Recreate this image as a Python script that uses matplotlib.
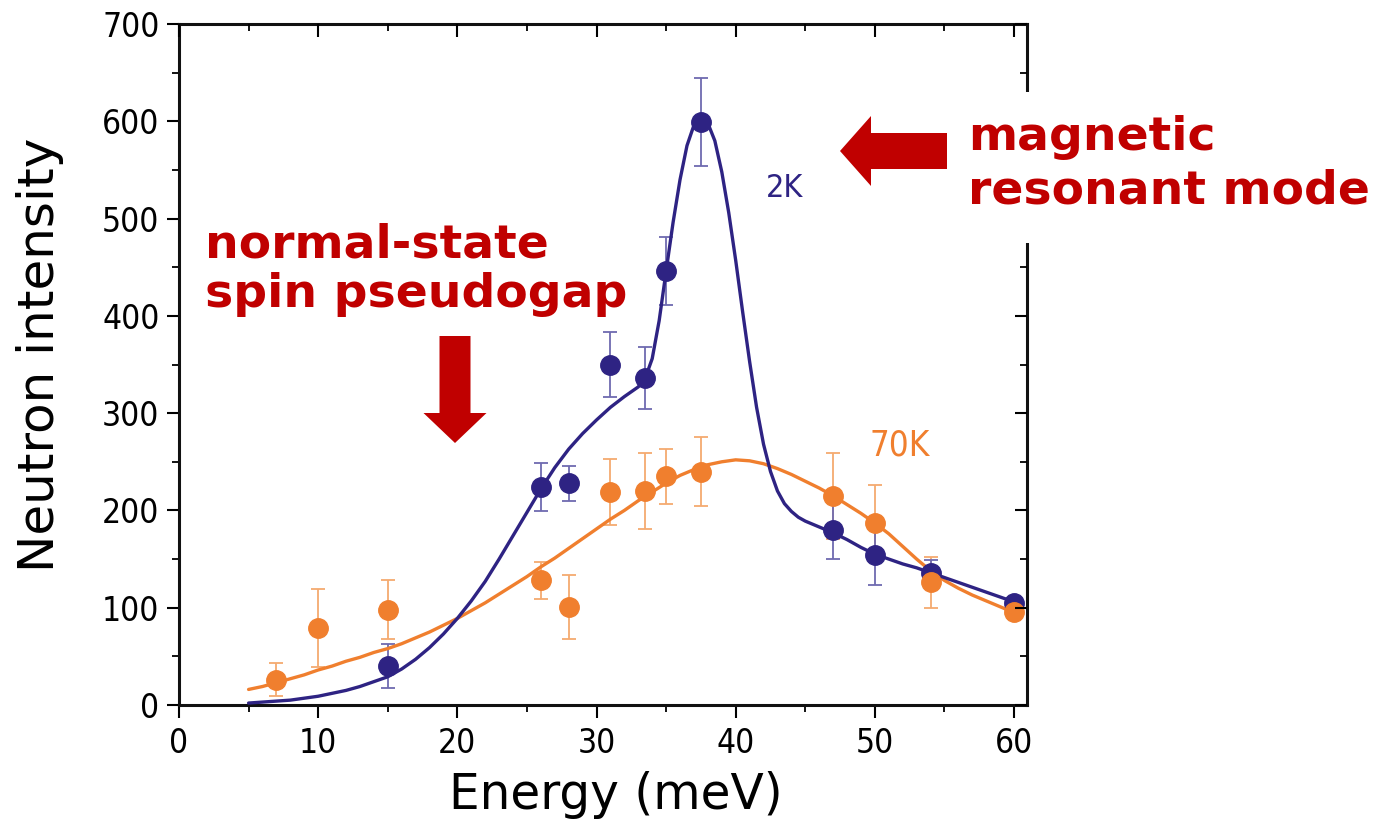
import matplotlib
matplotlib.use("Agg")
import matplotlib.pyplot as plt
from matplotlib.patches import FancyArrow, Rectangle
from matplotlib import font_manager as fm
import numpy as np

# ---------------- data ----------------
e_2k = [15, 26, 28, 31, 33.5, 35, 37.5, 47, 50, 54, 60]
i_2k = [40, 224, 228, 350, 336, 446, 599, 180, 154, 136, 105]
err_2k = [23, 25, 18, 33, 32, 35, 45, 30, 31, 13, 5]

e_70k = [7, 10, 15, 26, 28, 31, 33.5, 35, 37.5, 47, 50, 54, 60]
i_70k = [26, 79, 98, 128, 101, 219, 220, 235, 240, 215, 187, 126, 96]
err_70k = [17, 40, 30, 19, 33, 34, 39, 28, 35, 44, 39, 26, 8]

# fit curves
fit_2k_e = [5, 6, 7, 8, 9, 10, 11, 12, 13, 14, 15, 16, 17, 18, 19, 20, 21, 22, 23, 24,
            25, 26, 27, 28, 29, 30, 31, 32, 33, 33.5, 34, 34.5, 35, 35.5, 36, 36.5,
            37, 37.5, 38, 38.5, 39, 39.5, 40, 40.5, 41, 41.5, 42, 42.5, 43, 43.5,
            44, 44.5, 45, 46, 47, 48, 49, 50, 51, 52, 53, 54, 55, 56, 57, 58, 59, 60]
fit_2k_i = [2, 3, 4, 5, 7, 9, 12, 15, 19, 24, 29, 37, 47, 59, 73, 89, 107, 127, 150, 174,
            198, 222, 244, 263, 279, 293, 306, 317, 327, 336, 356, 395, 446, 496, 540, 575,
            596, 603, 598, 580, 548, 506, 457, 404, 353, 306, 268, 240, 220, 207,
            199, 193, 189, 183, 177, 170, 162, 155, 150, 145, 141, 136, 131, 126, 121, 116, 111, 106]

fit_70k_e = [5, 6, 7, 8, 9, 10, 11, 12, 13, 14, 15, 16, 17, 18, 19, 20, 21, 22, 23, 24,
             25, 26, 27, 28, 29, 30, 31, 32, 33, 34, 35, 36, 37, 38, 39, 40, 41, 42,
             43, 44, 45, 46, 47, 48, 49, 50, 51, 52, 53, 54, 55, 56, 57, 58, 59, 60]
fit_70k_i = [16, 19, 23, 27, 31, 36, 40, 45, 49, 54, 58, 63, 69, 75, 82, 89, 97, 105, 114, 123,
             132, 142, 151, 161, 171, 181, 191, 200, 210, 219, 228, 236, 242, 247, 250, 252, 251, 248,
             243, 237, 230, 223, 215, 206, 197, 187, 176, 163, 150, 138, 128, 120, 113, 107, 101, 95]

xticks = [0, 10, 20, 30, 40, 50, 60]
yticks = [0, 100, 200, 300, 400, 500, 600, 700]

navy = "#2E2383"
navy_err = "#6E6AB0"
orange = "#F07F2E"
orange_err = "#F5AA70"
red = "#C00000"

# narrow font for tick labels, if one exists
fonts = fm.fontManager.ttflist
names = {f.name for f in fonts}
tick_kw = dict(family="Liberation Sans", fontsize=24)
tag_kw = dict(family="Liberation Sans")
if "Liberation Sans Narrow" in names:
    tick_kw = dict(family="Liberation Sans Narrow", fontsize=28)
    tag_kw = dict(family="Liberation Sans Narrow")
elif any(f.name == "DejaVu Sans" and str(f.stretch) in ("condensed", "semi-condensed") for f in fonts):
    tick_kw = dict(family="DejaVu Sans", stretch="condensed", fontsize=24)
    tag_kw = dict(family="DejaVu Sans", stretch="condensed")

W, H = 1384, 819
fig = plt.figure(figsize=(W / 100, H / 100), dpi=100)
ax = fig.add_axes([179 / W, 1 - 705 / H, (1027 - 179) / W, (705 - 24) / H])

ax.plot(fit_70k_e, fit_70k_i, color=orange, lw=2.4, zorder=2, solid_capstyle="round",
        solid_joinstyle="round")
ax.plot(fit_2k_e, fit_2k_i, color=navy, lw=2.4, zorder=3, solid_capstyle="round",
        solid_joinstyle="round")

ax.errorbar(e_70k, i_70k, yerr=err_70k, fmt="none", ecolor=orange_err, elinewidth=1.3,
            capsize=5, capthick=1.3, zorder=1)
ax.errorbar(e_2k, i_2k, yerr=err_2k, fmt="none", ecolor=navy_err, elinewidth=1.3,
            capsize=5, capthick=1.3, zorder=1)
ax.plot(e_2k, i_2k, "o", color=navy, ms=14, zorder=4)
ax.plot(e_70k, i_70k, "o", color=orange, ms=14, zorder=5)

ax.set_xlim(0, 60.93)
ax.set_ylim(0, 700)
ax.set_xticks(xticks)
ax.set_yticks(yticks)
ax.set_xticks(np.arange(5, 60, 10), minor=True)
ax.set_yticks(np.arange(50, 700, 100), minor=True)
ax.set_xticklabels([str(t) for t in xticks], **tick_kw)
ax.set_yticklabels([str(t) for t in yticks], **tick_kw)
ax.tick_params(which="major", length=9, width=1.5, direction="out", pad=5)
ax.tick_params(which="minor", length=5, width=1.3, direction="out")
ax.tick_params(axis="x", which="major", pad=7)
for spine in ax.spines.values():
    spine.set_linewidth(2.2)
    spine.set_color("#111111")

# inward ticks on top and right
ax2 = ax.twinx()
ax2.set_ylim(ax.get_ylim())
ax2.set_yticks(yticks)
ax2.set_yticks(np.arange(50, 700, 100), minor=True)
ax2.tick_params(which="major", direction="in", length=9, width=1.5, labelright=False)
ax2.tick_params(which="minor", direction="in", length=5, width=1.3, labelright=False)
ax3 = ax.twiny()
ax3.set_xlim(ax.get_xlim())
ax3.set_xticks(xticks)
ax3.set_xticks(np.arange(5, 60, 10), minor=True)
ax3.tick_params(which="major", direction="in", length=9, width=1.5, labeltop=False)
ax3.tick_params(which="minor", direction="in", length=5, width=1.3, labeltop=False)
for a in (ax2, ax3):
    for s in a.spines.values():
        s.set_visible(False)

ax.text(43.5, 531, "2K", color=navy, fontsize=23, ha="center", va="center", zorder=6, **tag_kw)
ax.text(51.8, 267, "70K", color=orange, fontsize=25, ha="center", va="center", zorder=6, **tag_kw)

# axis labels
fig.text(616 / W, 1 - 795 / H, "Energy (meV)", fontsize=35, ha="center", va="center",
         family="DejaVu Sans")
fig.text(40 / W, 1 - 355 / H, "Neutron intensity", fontsize=36, ha="center", va="center",
         rotation=90, family="DejaVu Sans")

# white box behind right annotation (hides part of right spine)
fig.patches.append(Rectangle((1010 / W, 1 - 243 / H), (W - 1010) / W, (243 - 92) / H,
                             transform=fig.transFigure, facecolor="white",
                             edgecolor="none", zorder=10))

ann = dict(color=red, fontsize=34, fontweight="bold", family="DejaVu Sans",
           ha="left", va="baseline", zorder=11)
fig.text(205 / W, 1 - 258 / H, "normal-state", **ann)
fig.text(205 / W, 1 - 307 / H, "spin pseudogap", **ann)
fig.text(968 / W, 1 - 150 / H, "magnetic", **ann)
fig.text(968 / W, 1 - 204 / H, "resonant mode", **ann)

# arrows in display (pixel) coordinates
def px_arrow(x0, y0, dx, dy, width, head_w, head_l):
    fig.patches.append(FancyArrow(x0, H - y0, dx, -dy, width=width, head_width=head_w,
                                  head_length=head_l, length_includes_head=True,
                                  transform=None, color=red, zorder=12, lw=0))

px_arrow(455, 336, 0, 443 - 336, 31, 63, 30)
px_arrow(947, 151, 840 - 947, 0, 36, 70, 31)

fig.savefig("out.png", dpi=100)
